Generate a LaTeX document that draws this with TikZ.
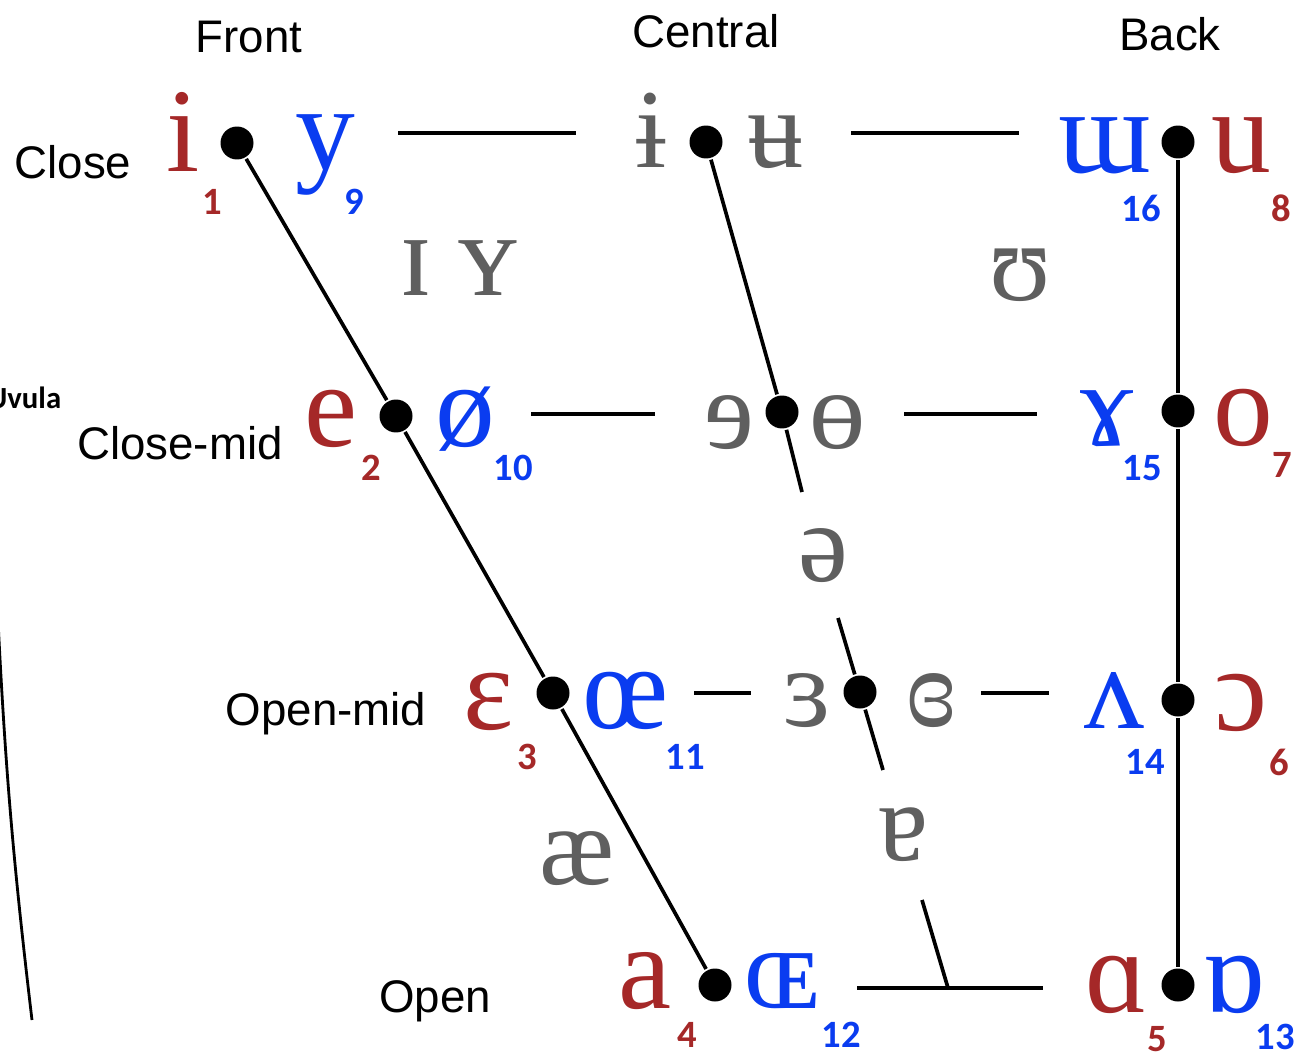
\documentclass[tikz,border=0pt]{standalone}
\usepackage{fontspec}
\setmainfont{Liberation Serif}
\newfontfamily\labelfont{Liberation Sans}
\newfontfamily\numfont{Carlito}
\usepackage{xcolor}
\usepackage{tikz}
\usetikzlibrary{positioning}

\definecolor{vred}{HTML}{A52828}
\definecolor{vblue}{HTML}{0A3CF0}
\definecolor{vgray}{HTML}{5F5F5F}

\begin{document}
\begin{tikzpicture}[x=0.02cm, y=-0.02cm, line width=2.1pt,
  vdot/.style={circle, fill=black, inner sep=0pt, minimum size=0.66cm},
  unr/.style={anchor=base, inner sep=0pt, text=vred, font=\fontsize{68}{68}\selectfont},
  rnd/.style={anchor=base, inner sep=0pt, text=vblue, font=\fontsize{68}{68}\selectfont},
  cen/.style={anchor=base, inner sep=0pt, text=vgray, font=\fontsize{64}{64}\selectfont},
  rnum/.style={inner sep=0pt, text=vred, font=\numfont\bfseries\fontsize{22}{22}\selectfont},
  bnum/.style={inner sep=0pt, text=vblue, font=\numfont\bfseries\fontsize{22}{22}\selectfont},
  lab/.style={anchor=base, inner sep=0pt, font=\labelfont\fontsize{26}{26}\selectfont}]
\useasboundingbox (0,0) rectangle (1294,1054);

% column and row labels
\node[lab] (front) at (249,53) {Front};
\node[lab] (central) at (706,48) {Central};
\node[lab] (back) at (1170,51) {Back};
\node[lab] (close) at (73,179) {Close};
\node[lab] (closemid) at (180,459) {Close-mid};
\node[lab] (openmid) at (326,725) {Open-mid};
\node[lab] (open) at (435,1012) {Open};
\node[anchor=base east, inner sep=0pt, font=\numfont\bfseries\fontsize{17.5}{17.5}\selectfont] (uvula) at (63,408) {Uvula};

% dots
\node[vdot] (dI) at (237,143) {};
\node[vdot] (dE) at (396,416) {};
\node[vdot] (dEps) at (553,693) {};
\node[vdot] (dA) at (715,985) {};
\node[vdot] (dBarI) at (706,142) {};
\node[vdot] (dRevE) at (782,412) {};
\node[vdot] (dRevEps) at (860,692) {};
\node[vdot] (dU) at (1178,142) {};
\node[vdot] (dO) at (1178,411) {};
\node[vdot] (dOpenO) at (1178,700) {};
\node[vdot] (dScriptA) at (1178,985) {};

% close
\node[unr] (i) at (183,172) {i};
\node[rnd] (y) at (325,170) {y};
\node[cen] (barI) at (651,168) {ɨ};
\node[cen] (barU) at (776,168) {ʉ};
\node[rnd] (turnM) at (1105,173) {ɯ};
\node[unr] (u) at (1241,173) {u};
\node[rnum] (n1) at (212,202) {1};
\node[bnum] (n9) at (354,202) {9};
\node[bnum] (n16) at (1141,208) {16};
\node[rnum] (n8) at (1281,208) {8};

% near-close
\node[cen, font=\fontsize{68}{68}\selectfont] (smallI) at (416,295) {ɪ};
\node[cen, font=\fontsize{68}{68}\selectfont] (smallY) at (488,295) {ʏ};
\node[cen] (upsilon) at (1020,300) {ʊ};

% close-mid
\node[unr] (e) at (331,446) {e};
\node[rnd] (oslash) at (465,446) {ø};
\node[cen] (revE) at (729,448) {ɘ};
\node[cen] (barO) at (838,448) {ɵ};
\node[rnd] (ramsHorn) at (1107,445) {ɤ};
\node[unr] (o) at (1243,445) {o};
\node[rnum] (n2) at (371,468) {2};
\node[bnum] (n10) at (513,468) {10};
\node[bnum] (n15) at (1142,468) {15};
\node[rnum] (n7) at (1282,465) {7};

% mid
\node[cen] (schwa) at (823,581) {ə};

% open-mid
\node[unr] (eps) at (489,729) {ɛ};
\node[rnd] (oe) at (626,728) {œ};
\node[cen] (revEps) at (807,726) {ɜ};
\node[cen] (closedRevEps) at (931,726) {ɞ};
\node[rnd] (wedge) at (1114,728) {ʌ};
\node[unr] (openO) at (1241,730) {ɔ};
\node[rnum] (n3) at (527,757) {3};
\node[bnum] (n11) at (685,757) {11};
\node[bnum] (n14) at (1145,762) {14};
\node[rnum] (n6) at (1279,762) {6};

% near-open
\node[cen] (ash) at (577,884) {æ};
\node[cen] (turnA) at (903,860) {ɐ};

% open
\node[unr] (a) at (645,1008) {a};
\node[rnd] (smallOE) at (782,1008) {ɶ};
\node[unr] (scriptA) at (1117,1012) {ɑ};
\node[rnd] (turnScriptA) at (1234,1012) {ɒ};
\node[rnum] (n4) at (687,1035) {4};
\node[bnum] (n12) at (841,1035) {12};
\node[rnum] (n5) at (1157,1039) {5};
\node[bnum] (n13) at (1275,1037) {13};

% free line ends
\coordinate (cA) at (802,492);
\coordinate (cB) at (838,618);
\coordinate (cC) at (883,770);
\coordinate (cD) at (922,900);
\coordinate (cE) at (948,988);
\coordinate (hA1) at (398,133);
\coordinate (hA2) at (576,133);
\coordinate (hA3) at (851,133);
\coordinate (hA4) at (1019,133);
\coordinate (hB1) at (531,414);
\coordinate (hB2) at (655,414);
\coordinate (hB3) at (904,414);
\coordinate (hB4) at (1037,414);
\coordinate (hC1) at (694,693);
\coordinate (hC2) at (751,693);
\coordinate (hC3) at (981,693);
\coordinate (hC4) at (1049,693);
\coordinate (hD1) at (857,988);
\coordinate (hD2) at (1043,988);
\coordinate (uvA) at (-3,600);
\coordinate (uvB) at (32,1020);

% front line
\draw (dI) -- (dE) -- (dEps) -- (dA);
% central line
\draw (dBarI) -- (dRevE) -- (cA);
\draw (cB) -- (dRevEps) -- (cC);
\draw (cD) -- (cE);
% back line
\draw (dU) -- (dO) -- (dOpenO) -- (dScriptA);

% rows
\draw (hA1) -- (hA2);
\draw (hA3) -- (hA4);
\draw (hB1) -- (hB2);
\draw (hB3) -- (hB4);
\draw (hC1) -- (hC2);
\draw (hC3) -- (hC4);
\draw (hD1) -- (hD2);

% uvula
\draw[line width=1.6pt] (uvA) to[bend right=2] (uvB);
\end{tikzpicture}
\end{document}
